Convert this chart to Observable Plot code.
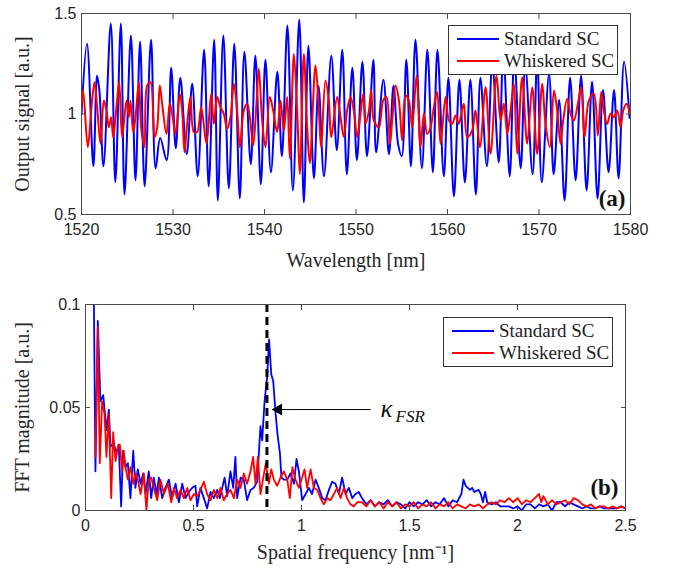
<!DOCTYPE html>
<html>
<head>
<meta charset="utf-8">
<script src="https://cdn.jsdelivr.net/npm/d3@7"></script>
<script src="https://cdn.jsdelivr.net/npm/@observablehq/plot@0.6"></script>
<style>
  html, body { margin: 0; padding: 0; background: #fff; }
  #wrap { position: relative; width: 677px; height: 569px; background: #fff; overflow: hidden; }
  #top, #bottom { position: absolute; left: 0; }
  #top { top: 0; }
  #bottom { top: 280px; }
  .legend { position: absolute; background: #fff; border: 1px solid #333; box-sizing: border-box;
            font-family: "Liberation Serif", "Times New Roman", serif; font-size: 19px; color: #222; }
  .legend .row { position: absolute; left: 0; height: 22px; display: flex; align-items: center; white-space: nowrap; }
  .legend svg { display: block; margin-left: 8px; margin-right: 5px; }
</style>
</head>
<body>
<div id="wrap">
  <div id="top"></div>
  <div id="bottom"></div>
</div>
<script>
// ---------------- Panel (a): output signal vs wavelength ----------------
const seriesNames = ["Standard SC", "Whiskered SC"];
const seriesColors = ["#0000ff", "#ff0000"];

const xTicksTop = [1520, 1530, 1540, 1550, 1560, 1570, 1580];
const yTicksTop = [0.5, 1, 1.5];

const wlStandard = [1520.0,1520.6,1521.3,1521.7,1521.95,1522.4,1523.2,1523.7,1524.3,1524.7,1525.4,1525.9,1526.4,1526.9,1527.6,1528.1,1528.6,1529.3,1529.8,1530.3,1530.8,1531.5,1532.1,1532.7,1533.4,1533.9,1534.5,1534.9,1535.5,1536.1,1536.7,1537.3,1537.8,1538.5,1539.0,1539.6,1540.1,1540.7,1541.4,1541.9,1542.5,1543.1,1543.8,1544.3,1544.8,1545.4,1545.9,1546.5,1547.3,1547.9,1548.5,1549.0,1549.6,1550.1,1550.7,1551.2,1551.9,1552.2,1553.0,1553.6,1554.1,1554.6,1555.0,1555.5,1556.0,1556.5,1557.2,1557.8,1558.4,1558.9,1559.6,1560.1,1560.7,1561.3,1561.9,1562.5,1563.1,1563.6,1564.3,1564.9,1565.6,1566.1,1566.8,1567.3,1568.0,1568.5,1569.3,1569.8,1570.3,1571.1,1571.6,1572.2,1572.8,1573.4,1574.0,1574.6,1575.2,1575.8,1576.4,1577.0,1577.6,1578.2,1578.7,1579.3,1579.9];
const sigStandard = [1.00,1.35,0.74,1.19,1.12,0.74,1.45,0.66,1.45,0.60,1.39,0.67,1.36,0.64,1.37,0.73,0.88,0.77,1.23,0.83,1.18,0.80,1.15,0.69,1.32,0.64,1.37,0.57,1.39,0.63,1.35,0.58,1.31,0.75,1.29,0.65,1.27,0.71,1.21,0.79,1.44,0.62,1.47,0.56,1.34,0.68,1.14,0.69,1.29,0.82,1.32,0.70,1.23,0.77,1.26,0.79,1.27,0.81,1.17,0.80,1.14,0.85,0.79,1.27,0.74,1.37,0.73,1.32,0.71,1.32,0.69,1.18,0.59,1.17,0.66,1.17,0.60,1.18,0.74,1.25,0.76,1.30,0.69,1.28,0.73,1.24,0.70,1.28,0.66,1.20,0.70,1.07,0.57,1.18,0.67,1.19,0.62,1.16,0.58,1.12,0.71,1.12,0.68,1.26,0.98];

const wlWhiskered = [1520.0,1520.18,1520.69,1521.06,1521.42,1521.71,1522.08,1522.44,1522.73,1522.99,1523.24,1523.46,1523.82,1524.12,1524.44,1524.92,1525.17,1525.35,1525.65,1525.90,1526.27,1526.52,1526.88,1527.18,1527.54,1527.98,1528.27,1528.56,1528.81,1529.29,1529.65,1529.91,1530.27,1530.75,1531.00,1531.26,1531.55,1531.91,1532.28,1532.64,1533.08,1533.66,1534.17,1534.46,1534.83,1535.19,1535.55,1535.92,1536.28,1536.65,1537.01,1537.30,1537.74,1538.10,1538.40,1538.76,1539.12,1539.38,1539.74,1540.11,1540.58,1540.95,1541.38,1541.75,1542.11,1542.48,1542.77,1543.21,1543.57,1543.86,1544.30,1544.66,1544.95,1545.57,1545.94,1546.19,1546.66,1547.03,1547.29,1547.94,1548.31,1548.67,1549.03,1549.40,1549.76,1550.13,1550.49,1550.79,1551.04,1551.41,1551.66,1551.95,1552.50,1552.97,1553.34,1553.70,1553.96,1554.32,1554.69,1555.05,1555.41,1555.78,1556.14,1556.62,1557.05,1557.42,1557.78,1558.15,1558.51,1558.87,1559.24,1559.79,1560.15,1560.51,1560.88,1561.24,1561.50,1561.79,1562.15,1562.70,1563.06,1563.54,1564.16,1564.70,1565.36,1565.80,1566.16,1566.53,1566.89,1567.25,1567.62,1568.16,1568.71,1569.26,1569.80,1570.35,1570.71,1571.19,1571.63,1571.99,1572.35,1572.64,1573.08,1573.45,1573.81,1574.25,1574.61,1574.98,1575.45,1576.00,1576.43,1576.80,1577.09,1577.45,1577.82,1578.18,1578.55,1578.91,1579.20,1579.57,1579.93];
const sigWhiskered = [1.034,1.117,0.835,1.017,1.158,1.034,0.852,1.067,1.017,0.934,0.984,0.885,1.034,1.158,0.885,1.067,0.984,1.067,0.910,0.984,1.158,0.934,0.835,1.142,1.158,0.885,0.934,1.142,1.051,0.901,1.051,1.001,0.901,1.100,1.017,0.810,0.951,1.084,0.910,0.910,1.034,0.852,1.100,0.951,1.084,1.034,1.001,0.926,0.984,1.150,1.017,0.835,1.017,1.051,0.984,0.843,1.051,1.225,0.968,0.835,1.084,1.017,0.910,1.067,0.918,1.084,0.777,1.299,1.017,0.702,1.299,0.934,0.756,1.241,1.017,0.835,1.167,1.067,0.885,1.084,0.984,0.885,1.017,1.084,1.017,0.885,1.001,1.100,0.951,1.017,1.117,0.968,0.934,1.067,1.084,0.852,0.968,1.142,1.067,0.868,1.092,1.067,0.934,1.192,0.835,1.001,0.901,0.934,1.034,1.109,0.852,1.084,0.968,0.951,0.993,0.951,1.001,1.051,0.885,0.918,1.017,0.835,1.133,0.802,1.192,0.968,1.051,0.901,1.017,1.150,0.802,1.183,0.852,1.133,0.802,1.150,0.951,0.835,1.117,1.017,0.852,0.968,1.075,1.001,0.968,1.051,1.133,0.885,1.067,1.100,0.893,1.109,1.017,0.951,1.001,0.984,1.017,0.934,1.017,1.051,1.001];

// ---------------- Panel (b): FFT magnitude vs spatial frequency ----------------
const xTicksBottom = [0, 0.5, 1, 1.5, 2, 2.5];
const yTicksBottom = [0, 0.05, 0.1];

const freqStandard = [0.039,0.046,0.057,0.069,0.082,0.097,0.108,0.116,0.123,0.131,0.144,0.154,0.165,0.174,0.185,0.196,0.208,0.221,0.231,0.242,0.255,0.267,0.278,0.293,0.304,0.316,0.329,0.340,0.355,0.370,0.386,0.401,0.417,0.432,0.448,0.463,0.478,0.494,0.509,0.517,0.532,0.548,0.563,0.579,0.594,0.610,0.622,0.633,0.644,0.656,0.671,0.684,0.694,0.702,0.718,0.733,0.748,0.764,0.779,0.795,0.810,0.818,0.829,0.841,0.850,0.860,0.869,0.880,0.890,0.900,0.907,0.918,0.934,0.949,0.965,0.977,0.988,1.003,1.019,1.034,1.049,1.065,1.080,1.096,1.111,1.127,1.142,1.157,1.173,1.188,1.204,1.219,1.235,1.250,1.265,1.28,1.30,1.32,1.34,1.36,1.38,1.40,1.42,1.44,1.46,1.48,1.50,1.52,1.54,1.56,1.58,1.60,1.62,1.64,1.66,1.68,1.70,1.72,1.74,1.75,1.76,1.78,1.79,1.80,1.82,1.83,1.84,1.85,1.86,1.88,1.90,1.92,1.94,1.96,1.98,2.00,2.02,2.04,2.06,2.08,2.10,2.12,2.14,2.16,2.18,2.20,2.22,2.24,2.26,2.28,2.30,2.32,2.34,2.36,2.38,2.40,2.42,2.44,2.46,2.48,2.50];
const fftStandard = [0.100,0.019,0.092,0.053,0.056,0.039,0.049,0.031,0.032,0.032,0.028,0.032,0.002,0.029,0.021,0.023,0.006,0.029,0.011,0.020,0.013,0.018,0.008,0.019,0.006,0.016,0.008,0.016,0.006,0.011,0.015,0.006,0.013,0.004,0.013,0.006,0.009,0.011,0.012,0.002,0.011,0.006,0.001,0.009,0.006,0.010,0.006,0.011,0.016,0.007,0.019,0.011,0.026,0.006,0.016,0.015,0.005,0.010,0.011,0.014,0.041,0.034,0.053,0.065,0.083,0.066,0.063,0.047,0.036,0.028,0.016,0.015,0.015,0.018,0.013,0.025,0.019,0.005,0.008,0.011,0.008,0.015,0.011,0.006,0.005,0.010,0.014,0.013,0.008,0.016,0.008,0.011,0.006,0.008,0.009,0.006,0.003,0.005,0.002,0.004,0.003,0.005,0.002,0.004,0.003,0.001,0.004,0.002,0.004,0.003,0.005,0.002,0.004,0.003,0.006,0.002,0.005,0.004,0.008,0.015,0.012,0.010,0.011,0.009,0.010,0.008,0.004,0.009,0.004,0.003,0.004,0.002,0.002,0.002,0.001,0.002,0.000,0.003,0.003,0.001,0.003,0.002,0.003,0.000,0.004,0.004,0.002,0.004,0.003,0.002,0.001,0.002,0.001,0.001,0.002,0.001,0.001,0.001,0.001,0.002,0.001];

const freqWhiskered = [0.046,0.057,0.066,0.077,0.088,0.097,0.108,0.119,0.128,0.139,0.150,0.159,0.170,0.177,0.185,0.196,0.208,0.221,0.231,0.242,0.255,0.270,0.282,0.293,0.304,0.316,0.332,0.347,0.363,0.381,0.397,0.409,0.424,0.440,0.455,0.471,0.486,0.502,0.517,0.532,0.548,0.563,0.579,0.594,0.610,0.625,0.640,0.656,0.671,0.687,0.702,0.718,0.733,0.748,0.764,0.776,0.787,0.798,0.810,0.823,0.835,0.849,0.860,0.872,0.887,0.903,0.918,0.934,0.946,0.958,0.972,0.988,1.003,1.014,1.026,1.042,1.057,1.073,1.088,1.103,1.119,1.134,1.150,1.165,1.181,1.196,1.211,1.227,1.242,1.258,1.28,1.30,1.32,1.34,1.36,1.38,1.40,1.42,1.44,1.46,1.48,1.50,1.52,1.54,1.56,1.58,1.60,1.62,1.64,1.66,1.68,1.70,1.72,1.74,1.76,1.78,1.80,1.82,1.84,1.86,1.88,1.90,1.92,1.94,1.96,1.98,2.00,2.02,2.04,2.06,2.08,2.10,2.11,2.12,2.14,2.16,2.18,2.20,2.22,2.24,2.26,2.28,2.30,2.32,2.34,2.36,2.38,2.40,2.42,2.44,2.46,2.48,2.50];
const fftWhiskered = [0.026,0.089,0.023,0.053,0.047,0.026,0.047,0.006,0.038,0.024,0.031,0.032,0.019,0.029,0.021,0.015,0.021,0.013,0.018,0.015,0.008,0.018,0.000,0.015,0.016,0.011,0.005,0.015,0.008,0.013,0.004,0.011,0.006,0.010,0.006,0.011,0.005,0.008,0.007,0.010,0.014,0.008,0.005,0.010,0.006,0.011,0.005,0.008,0.010,0.006,0.015,0.011,0.018,0.013,0.019,0.026,0.013,0.026,0.008,0.016,0.023,0.013,0.020,0.015,0.012,0.016,0.019,0.015,0.006,0.021,0.015,0.011,0.016,0.020,0.011,0.020,0.011,0.010,0.006,0.003,0.006,0.005,0.008,0.011,0.006,0.011,0.006,0.003,0.002,0.004,0.004,0.002,0.005,0.002,0.004,0.001,0.004,0.002,0.004,0.001,0.003,0.002,0.004,0.001,0.003,0.002,0.004,0.001,0.003,0.002,0.004,0.001,0.003,0.002,0.001,0.003,0.002,0.003,0.001,0.003,0.004,0.003,0.005,0.004,0.006,0.004,0.006,0.003,0.005,0.004,0.006,0.008,0.004,0.007,0.003,0.005,0.003,0.004,0.005,0.003,0.006,0.005,0.003,0.002,0.003,0.001,0.002,0.002,0.001,0.002,0.001,0.002,0.001];

// Annotation values (data units)
const kappaFSR = [0.84];
const arrowStart = [1.32, 0.049];
const arrowTip = [0.866, 0.049];

// ---------------- build tables ----------------
const zip = (xs, ys, s) => xs.map((x, i) => ({x, y: ys[i], series: s}));
const topStd = zip(wlStandard, sigStandard, seriesNames[0]);
const topWhi = zip(wlWhiskered, sigWhiskered, seriesNames[1]);
const botStd = zip(freqStandard, fftStandard, seriesNames[0]);
const botWhi = zip(freqWhiskered, fftWhiskered, seriesNames[1]);

const SANS = "'Liberation Sans', Arial, Helvetica, sans-serif";
const SERIF = "'Liberation Serif', 'Times New Roman', serif";
const AXC = "#262626";
const FRAME = "#4a4a4a";
const fmt = d => String(d);
const blank = () => "";

function axes(xTicks, yTicks, tick) {
  return [
    Plot.axisX(xTicks, {anchor: "bottom", tickSize: -tick, tickPadding: 14, tickFormat: fmt, label: null, stroke: FRAME, fill: AXC, fontFamily: SANS, fontSize: 16}),
    Plot.axisX(xTicks, {anchor: "top", tickSize: -tick, tickFormat: blank, label: null, stroke: FRAME}),
    Plot.axisY(yTicks, {anchor: "left", tickSize: -tick, tickPadding: 10, tickFormat: fmt, label: null, stroke: FRAME, fill: AXC, fontFamily: SANS, fontSize: 16}),
    Plot.axisY(yTicks, {anchor: "right", tickSize: -tick, tickFormat: blank, label: null, stroke: FRAME})
  ];
}

const labelStyle = {fontFamily: SERIF, fontSize: 20, fill: AXC, textAnchor: "middle", lineAnchor: "middle"};

const topChart = Plot.plot({
  width: 677, height: 280,
  marginLeft: 81, marginRight: 47, marginTop: 13, marginBottom: 66,
  style: {background: "transparent", color: AXC, fontFamily: SANS, fontSize: "16px"},
  x: {domain: [1520, 1580]},
  y: {domain: [0.5, 1.5]},
  marks: [
    Plot.line(topStd, {x: "x", y: "y", stroke: seriesColors[0], strokeWidth: 2, curve: "catmull-rom", clip: true}),
    Plot.line(topWhi, {x: "x", y: "y", stroke: seriesColors[1], strokeWidth: 2, curve: "catmull-rom", clip: true}),
    Plot.frame({stroke: FRAME, strokeWidth: 1}),
    ...axes(xTicksTop, yTicksTop, 5),
    Plot.text(["Output signal [a.u.]"], {frameAnchor: "left", dx: -59, rotate: -90, ...labelStyle}),
    Plot.text(["Wavelength [nm]"], {frameAnchor: "bottom", dy: 46, ...labelStyle}),
    Plot.text(["(a)"], {frameAnchor: "bottom-right", dx: -5, dy: -16, textAnchor: "end", lineAnchor: "middle", fontFamily: SERIF, fontWeight: "bold", fontSize: 23, fill: "#111"})
  ]
});
document.getElementById("top").appendChild(topChart);

const bottomChart = Plot.plot({
  width: 677, height: 289,
  marginLeft: 85, marginRight: 52, marginTop: 24, marginBottom: 59,
  style: {background: "transparent", color: AXC, fontFamily: SANS, fontSize: "16px"},
  x: {domain: [0, 2.5]},
  y: {domain: [0, 0.1]},
  marks: [
    Plot.line(botStd, {x: "x", y: "y", stroke: seriesColors[0], strokeWidth: 1.8, clip: true}),
    Plot.line(botWhi, {x: "x", y: "y", stroke: seriesColors[1], strokeWidth: 1.8, clip: true}),
    Plot.ruleX(kappaFSR, {stroke: "#000", strokeWidth: 3, strokeDasharray: "8,5"}),
    Plot.link([{x1: arrowStart[0], y1: arrowStart[1], x2: arrowTip[0], y2: arrowTip[1]}], {x1: "x1", y1: "y1", x2: "x2", y2: "y2", stroke: "#000", strokeWidth: 1}),
    Plot.dot([{x: arrowTip[0], y: arrowTip[1]}], {x: "x", y: "y", symbol: "triangle", rotate: -90, r: 4.5, fill: "#000", stroke: "none", dx: 6}),
    Plot.text([{x: arrowStart[0], y: arrowStart[1]}], {x: "x", y: "y", text: () => "κ", dx: 10, dy: -1, textAnchor: "start", lineAnchor: "middle", fontFamily: SERIF, fontStyle: "italic", fontSize: 25, fill: "#111"}),
    Plot.text([{x: arrowStart[0], y: arrowStart[1]}], {x: "x", y: "y", text: () => "FSR", dx: 25, dy: 7, textAnchor: "start", lineAnchor: "middle", fontFamily: SERIF, fontStyle: "italic", fontSize: 17, fill: "#111"}),
    Plot.frame({stroke: FRAME, strokeWidth: 1}),
    ...axes(xTicksBottom, yTicksBottom, 5),
    Plot.text(["FFT magnitude [a.u.]"], {frameAnchor: "left", dx: -63, rotate: -90, ...labelStyle}),
    Plot.text(["Spatial frequency [nm⁻¹]"], {frameAnchor: "bottom", dy: 42, ...labelStyle}),
    Plot.text(["(b)"], {frameAnchor: "bottom-right", dx: -7, dy: -23, textAnchor: "end", lineAnchor: "middle", fontFamily: SERIF, fontWeight: "bold", fontSize: 23, fill: "#111"})
  ]
});
document.getElementById("bottom").appendChild(bottomChart);

// ---------------- legends ----------------
function legend(left, top, w, h, lineW) {
  const div = document.createElement("div");
  div.className = "legend";
  Object.assign(div.style, {left: left + "px", top: top + "px", width: w + "px", height: h + "px"});
  seriesNames.forEach((name, i) => {
    const row = document.createElement("div");
    row.className = "row";
    row.style.top = (2 + i * 22) + "px";
    row.innerHTML = `<svg width="42" height="6"><line x1="0" y1="3" x2="42" y2="3" stroke="${seriesColors[i]}" stroke-width="${lineW}"/></svg><span>${name}</span>`;
    div.appendChild(row);
  });
  document.getElementById("wrap").appendChild(div);
}
legend(448, 25, 170, 50, 2);
legend(443, 317, 170, 50, 1.8);
</script>
</body>
</html>
